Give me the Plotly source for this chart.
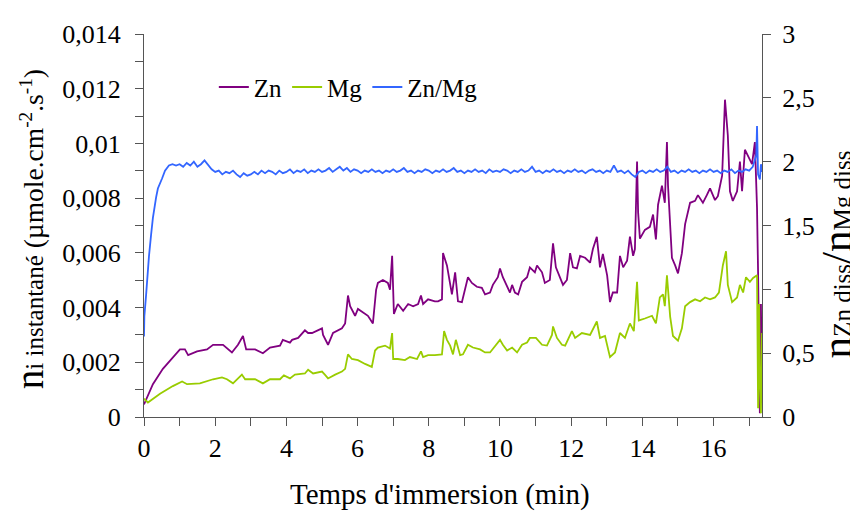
import plotly.graph_objects as go

# ---- data ----
zn_t = [0.00, 0.25, 0.53, 0.81, 1.01, 1.15, 1.24, 1.49, 1.77, 1.94, 2.22, 2.47, 2.64, 2.78, 2.87,
        3.12, 3.34, 3.54, 3.82, 3.90, 4.10, 4.16, 4.33, 4.52, 4.61, 4.72, 4.89, 5.00, 5.03, 5.14,
        5.17, 5.31, 5.56, 5.65, 5.73, 5.79, 5.93, 6.01, 6.15, 6.29, 6.43, 6.52, 6.57, 6.71, 6.85,
        6.91, 6.97, 7.00, 7.02, 7.13, 7.28, 7.42, 7.56, 7.70, 7.78, 7.84, 7.98, 8.17, 8.26, 8.37,
        8.40, 8.51, 8.54, 8.65, 8.74, 8.82, 8.93, 9.02, 9.10, 9.21, 9.35, 9.49, 9.58, 9.72, 9.80,
        9.94, 10.00, 10.08, 10.20, 10.28, 10.34, 10.42, 10.51, 10.62, 10.76, 10.84, 10.98, 11.04,
        11.18, 11.26, 11.40, 11.49, 11.57, 11.69, 11.77, 11.88, 11.97, 12.05, 12.16, 12.25, 12.39,
        12.53, 12.61, 12.72, 12.81, 12.89, 13.01, 13.09, 13.17, 13.29, 13.37, 13.46, 13.57, 13.65,
        13.74, 13.79, 13.85, 13.88, 13.93, 14.07, 14.21, 14.30, 14.38, 14.44, 14.55, 14.63, 14.69,
        14.72, 14.83, 14.92, 15.00, 15.11, 15.20, 15.34, 15.48, 15.56, 15.70, 15.81, 15.90, 16.04,
        16.12, 16.24, 16.32, 16.40, 16.46, 16.54, 16.66, 16.74, 16.80, 16.88, 16.97, 17.08, 17.16,
        17.22, 17.25, 17.30, 17.33, 17.36]
zn_v = [0.46, 1.20, 1.76, 2.19, 2.47, 2.47, 2.26, 2.40, 2.47, 2.64, 2.64, 2.36, 2.64, 2.96, 2.47,
        2.47, 2.33, 2.54, 2.61, 2.82, 2.72, 2.82, 2.89, 3.17, 3.07, 3.07, 3.17, 3.24, 3.00, 2.72,
        2.64, 3.07, 3.24, 3.42, 4.44, 4.05, 3.70, 3.95, 3.81, 3.70, 3.42, 4.65, 4.90, 5.01, 4.90,
        4.65, 5.89, 4.58, 3.77, 4.13, 3.88, 4.13, 4.05, 4.13, 4.44, 4.13, 4.30, 4.23, 4.23, 4.30,
        5.99, 5.54, 5.29, 4.48, 5.29, 4.23, 4.20, 4.72, 5.11, 4.90, 4.76, 4.72, 4.48, 4.55, 4.83,
        5.11, 5.43, 5.11, 4.76, 4.55, 4.83, 4.55, 4.48, 4.94, 5.11, 5.47, 5.29, 5.54,
        5.29, 4.90, 5.01, 6.35, 5.47, 5.08, 4.83, 5.01, 5.99, 5.47, 5.43, 5.89, 5.82,
        5.64, 6.14, 6.59, 5.47, 5.96, 5.18, 4.20, 4.55, 4.55, 5.89, 5.47, 5.71, 6.59,
        5.89, 6.14, 9.34, 7.48, 6.52, 6.84, 6.95, 7.40, 6.49, 7.76, 8.46, 7.83, 10.05,
        8.46, 5.82, 5.54, 5.25, 5.99, 7.05, 7.83, 7.90, 8.11, 7.83, 8.11, 8.36, 7.93,
        8.07, 8.82, 11.60, 10.30, 8.25, 7.90, 8.25, 9.34, 8.25, 9.77, 9.52, 9.24, 10.05,
        7.65, 5.29, 0.14, 4.13, 0.60]  # x 1e-3 µmole.cm-2.s-1

mg_t = [0.00, 0.11, 0.45, 0.81, 1.07, 1.21, 1.57, 1.94, 2.19, 2.33, 2.50, 2.64, 2.75, 2.84, 3.12,
        3.34, 3.54, 3.82, 3.93, 4.10, 4.24, 4.52, 4.61, 4.75, 5.00, 5.08, 5.17, 5.37, 5.56, 5.65,
        5.73, 5.84, 6.01, 6.21, 6.40, 6.49, 6.57, 6.77, 6.91, 6.97, 7.00, 7.13, 7.33, 7.47, 7.67,
        7.78, 7.84, 7.98, 8.17, 8.37, 8.43, 8.51, 8.60, 8.68, 8.76, 8.88, 8.96, 9.10, 9.24, 9.44,
        9.58, 9.72, 9.86, 10.00, 10.08, 10.20, 10.34, 10.48, 10.62, 10.76, 10.84, 11.01, 11.18,
        11.32, 11.46, 11.49, 11.60, 11.74, 11.83, 11.91, 12.02, 12.11, 12.25, 12.30, 12.53, 12.72,
        12.81, 12.95, 13.09, 13.23, 13.37, 13.51, 13.65, 13.76, 13.85, 13.90, 14.07, 14.27, 14.38,
        14.49, 14.58, 14.63, 14.69, 14.78, 14.86, 15.00, 15.11, 15.20, 15.34, 15.48, 15.62, 15.76,
        15.90, 16.04, 16.15, 16.26, 16.35, 16.40, 16.52, 16.66, 16.74, 16.83, 16.91, 17.02, 17.11,
        17.22, 17.25, 17.28, 17.30, 17.33, 17.36]
mg_v = [0.67, 0.53, 0.85, 1.13, 1.30, 1.20, 1.23, 1.38, 1.45, 1.38, 1.23, 1.41, 1.55, 1.38, 1.38,
        1.23, 1.38, 1.38, 1.52, 1.41, 1.55, 1.59, 1.73, 1.59, 1.66, 1.55, 1.41, 1.55, 1.66, 1.76,
        2.29, 2.12, 2.08, 1.94, 1.83, 2.43, 2.54, 2.61, 2.50, 3.07, 2.12, 2.12, 2.08, 2.19, 2.12,
        2.40, 2.19, 2.26, 2.26, 2.29, 3.14, 2.82, 2.61, 2.29, 2.82, 2.26, 2.29, 2.64, 2.54, 2.47,
        2.36, 2.36, 2.61, 2.82, 2.64, 2.43, 2.54, 2.36, 2.64, 2.72, 2.89, 2.89, 2.64,
        2.61, 3.00, 3.31, 2.89, 2.64, 2.61, 2.82, 3.14, 2.89, 3.00, 3.07, 3.00, 3.49,
        2.89, 2.96, 2.19, 2.36, 3.07, 2.89, 3.42, 3.14, 4.94, 3.53, 3.60, 3.70, 3.42,
        4.37, 4.48, 4.05, 5.18, 3.67, 2.96, 2.79, 3.24, 4.05, 4.20, 4.30, 4.23, 4.37,
        4.30, 4.37, 4.55, 5.54, 6.06, 4.83, 4.20, 4.37, 4.83, 4.55, 5.11, 4.94, 5.08,
        5.18, 0.32, 4.13, 1.30, 0.14, 3.07]  # x 1e-3 µmole.cm-2.s-1

ratio_t = [0.00, 0.01, 0.06, 0.08, 0.14, 0.20, 0.25, 0.34, 0.39, 0.51, 0.59, 0.70,
           0.8, 0.9, 1.0, 1.1, 1.2, 1.3, 1.4, 1.5, 1.6, 1.7, 1.8, 1.9, 2.0, 2.1, 2.2, 2.3, 2.4,
           2.5, 2.6, 2.7, 2.8, 2.9, 3.0, 3.1, 3.2, 3.3, 3.4, 3.5, 3.6, 3.7, 3.8, 3.9, 4.0, 4.1,
           4.2, 4.3, 4.4, 4.5, 4.6, 4.7, 4.8, 4.9, 5.0, 5.1, 5.2, 5.3, 5.4, 5.5, 5.6, 5.7, 5.8,
           5.9, 6.0, 6.1, 6.2, 6.3, 6.4, 6.5, 6.6, 6.7, 6.8, 6.9, 7.0, 7.1, 7.2, 7.3, 7.4, 7.5,
           7.6, 7.7, 7.8, 7.9, 8.0, 8.1, 8.2, 8.3, 8.4, 8.5, 8.6, 8.7, 8.8, 8.9, 9.0, 9.1, 9.2,
           9.3, 9.4, 9.5, 9.6, 9.7, 9.8, 9.9, 10.0, 10.1, 10.2, 10.3, 10.4, 10.5, 10.6, 10.7,
           10.8, 10.9, 11.0, 11.1, 11.2, 11.3, 11.4, 11.5, 11.6, 11.7, 11.8, 11.9, 12.0, 12.1,
           12.2, 12.3, 12.4, 12.5, 12.6, 12.7, 12.8, 12.9, 13.0, 13.1, 13.2, 13.3, 13.4, 13.5,
           13.6, 13.7, 13.8, 13.9, 14.0, 14.1, 14.2, 14.3, 14.4, 14.5, 14.6, 14.7, 14.8, 14.9,
           15.0, 15.1, 15.2, 15.3, 15.4, 15.5, 15.6, 15.7, 15.8, 15.9, 16.0, 16.1, 16.2, 16.3,
           16.4, 16.5, 16.6, 16.7, 16.8, 16.9, 17.0, 17.1, 17.2, 17.22, 17.25, 17.30, 17.33, 17.36]
ratio_v = [0.63, 0.79, 0.96, 1.06, 1.26, 1.43, 1.56, 1.72, 1.79, 1.87, 1.93, 1.97,
           1.98, 1.97, 1.98, 1.96, 1.99, 1.97, 2.00, 1.96, 1.98, 2.01, 1.97, 1.94, 1.92, 1.93, 1.90, 1.92, 1.91,
           1.93, 1.90, 1.88, 1.91, 1.89, 1.90, 1.92, 1.90, 1.93, 1.91, 1.93, 1.92, 1.90, 1.93, 1.91, 1.92, 1.94,
           1.91, 1.93, 1.92, 1.94, 1.91, 1.93, 1.92, 1.94, 1.92, 1.93, 1.95, 1.92, 1.94, 1.96, 1.93, 1.95, 1.92,
           1.94, 1.93, 1.91, 1.93, 1.92, 1.94, 1.92, 1.93, 1.91, 1.93, 1.92, 1.94, 1.92, 1.93, 1.95, 1.92, 1.93,
           1.91, 1.93, 1.92, 1.94, 1.93, 1.91, 1.93, 1.92, 1.94, 1.92, 1.93, 1.95, 1.92, 1.93, 1.91, 1.93, 1.92,
           1.94, 1.92, 1.93, 1.91, 1.94, 1.92, 1.93, 1.92, 1.94, 1.93, 1.91, 1.93, 1.92, 1.94, 1.92,
           1.93, 1.96, 1.92, 1.93, 1.91, 1.93, 1.92, 1.94, 1.92, 1.93, 1.91, 1.93, 1.92, 1.94,
           1.92, 1.93, 1.91, 1.93, 1.94, 1.92, 1.93, 1.91, 1.93, 1.92, 1.97, 1.92, 1.93, 1.91,
           1.93, 1.90, 1.88, 1.92, 1.93, 1.91, 1.93, 1.92, 1.94, 1.92, 1.93, 1.96, 1.92, 1.93,
           1.91, 1.93, 1.92, 1.94, 1.92, 1.93, 1.91, 1.93, 1.92, 1.94, 1.92, 1.93, 1.91, 1.93,
           1.92, 1.94, 1.91, 1.93, 1.92, 1.94, 1.93, 1.96, 2.05, 2.28, 1.90, 1.86, 1.98, 1.92]

x_ticks = [0, 2, 4, 6, 8, 10, 12, 14, 16]
y_ticks = [0, 0.002, 0.004, 0.006, 0.008, 0.010, 0.012, 0.014]
y_labels = ["0", "0,002", "0,004", "0,006", "0,008", "0,01", "0,012", "0,014"]
y2_ticks = [0, 0.5, 1, 1.5, 2, 2.5, 3]
y2_labels = ["0", "0,5", "1", "1,5", "2", "2,5", "3"]

x_title = "Temps d'immersion (min)"
y_title = ("<span style='font-size:39px'>n</span><span style='font-size:25px'>i instantané</span>"
           " (µmole.cm<sup>-2</sup>.s<sup>-1</sup>)")
y2_title = ("n<span style='font-size:25px'>Zn diss</span>/n"
            "<span style='font-size:25px'>Mg diss</span>")

FONT = "Liberation Serif, Times New Roman, serif"
AXC = "#555555"
TICKF = 26

fig = go.Figure()
fig.add_trace(go.Scatter(x=zn_t, y=[v * 1e-3 for v in zn_v], name="Zn", mode="lines",
                         line=dict(color="#800080", width=1.8)))
fig.add_trace(go.Scatter(x=mg_t, y=[v * 1e-3 for v in mg_v], name="Mg", mode="lines",
                         line=dict(color="#99CC00", width=1.8)))
fig.add_trace(go.Scatter(x=ratio_t, y=ratio_v, name="Zn/Mg", mode="lines", yaxis="y2",
                         line=dict(color="#3366FF", width=1.8)))

fig.update_layout(
    width=850, height=514,
    margin=dict(l=136, r=96, t=12, b=105),
    paper_bgcolor="white", plot_bgcolor="white",
    font=dict(family=FONT, size=TICKF, color="black"),
    showlegend=True,
    legend=dict(orientation="h", x=0.113, y=0.861, xanchor="left", yanchor="middle",
                font=dict(family=FONT, size=25), itemwidth=30,
                bgcolor="rgba(0,0,0,0)", tracegroupgap=0),
    xaxis=dict(range=[0, 17.36], tickvals=x_ticks, ticktext=[str(v) for v in x_ticks],
               ticks="outside", ticklen=8, tickcolor=AXC, showline=True, linecolor=AXC,
               linewidth=1, showgrid=False, zeroline=False, ticklabelstandoff=0,
               ticklabeloverflow="allow",
               minor=dict(dtick=1, tick0=0, ticks="outside", ticklen=8, tickcolor=AXC, showgrid=False),
               tickfont=dict(size=TICKF)),
    yaxis=dict(range=[0, 0.014], tickvals=y_ticks, ticktext=y_labels,
               ticks="outside", ticklen=8, tickcolor=AXC, showline=True, linecolor=AXC,
               linewidth=1, showgrid=False, zeroline=False, ticklabelstandoff=9,
               ticklabeloverflow="allow",
               minor=dict(dtick=0.001, tick0=0, ticks="outside", ticklen=8, tickcolor=AXC, showgrid=False),
               tickfont=dict(size=TICKF)),
    yaxis2=dict(range=[0, 3], overlaying="y", side="right", tickvals=y2_ticks, ticktext=y2_labels,
                ticks="outside", ticklen=8, tickcolor=AXC, showline=True, linecolor=AXC,
                linewidth=1, showgrid=False, zeroline=False, tickfont=dict(size=TICKF),
                ticklabelstandoff=6, ticklabeloverflow="allow"),
    yaxis3=dict(range=[0, 3], overlaying="y", side="right", tickvals=y2_ticks,
                ticks="inside", ticklen=8, tickcolor=AXC, showticklabels=False,
                showline=False, showgrid=False, zeroline=False),
    annotations=[
        dict(text=x_title, xref="paper", yref="paper", x=0.479, y=-0.2015,
             xanchor="center", yanchor="middle", showarrow=False, font=dict(size=29)),
        dict(text=y_title, xref="paper", yref="paper", x=-0.184, y=0.491, textangle=-90,
             xanchor="center", yanchor="middle", showarrow=False, font=dict(size=27.5)),
        dict(text=y2_title, xref="paper", yref="paper", x=1.121, y=0.424, textangle=-90,
             xanchor="center", yanchor="middle", showarrow=False, font=dict(size=43)),
    ],
)

fig.write_html("out.html")
